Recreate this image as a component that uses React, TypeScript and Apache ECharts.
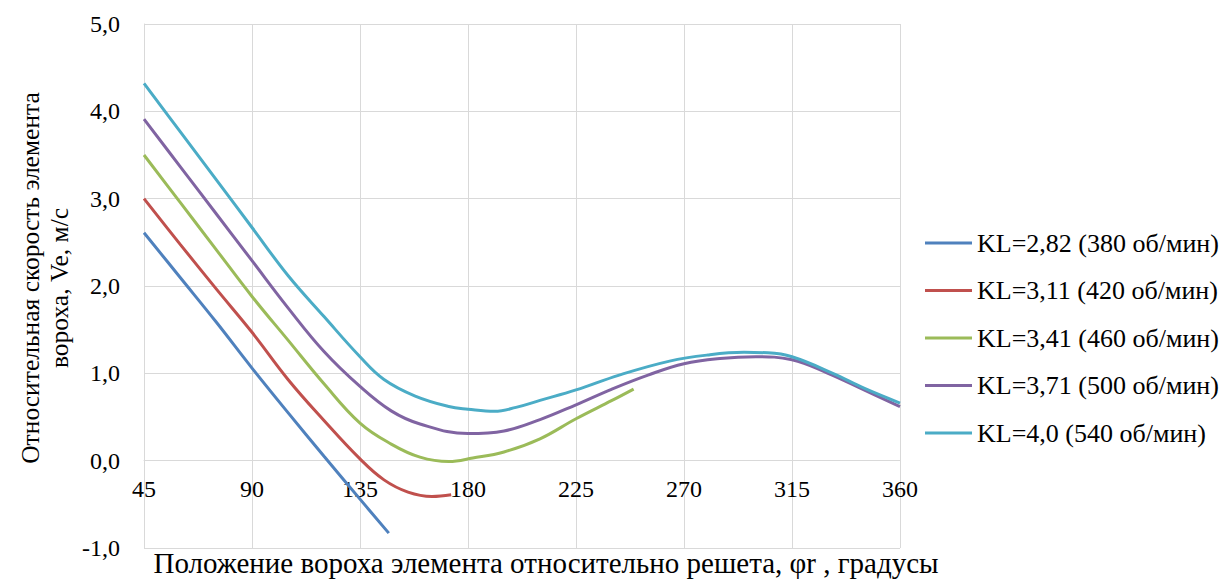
import React, { useEffect, useRef } from "react";
import * as echarts from "echarts";

// Angles (degrees) and relative velocity (m/s) for each sieve speed
const kl282Angles = [45, 60, 75, 90, 105, 120, 135, 147];
const kl282Values = [2.61, 2.1, 1.59, 1.06, 0.55, 0.05, -0.44, -0.83];

const kl311Angles = [45, 60, 75, 90, 105, 120, 135, 145, 155, 165, 173];
const kl311Values = [3.0, 2.48, 1.97, 1.47, 0.93, 0.46, 0.02, -0.22, -0.36, -0.41, -0.39];

const kl341Angles = [45, 60, 75, 90, 105, 120, 135, 148, 160, 172, 182, 195, 210, 225, 240, 249];
const kl341Values = [3.5, 2.96, 2.42, 1.88, 1.38, 0.88, 0.43, 0.19, 0.04, -0.01, 0.03, 0.1, 0.25, 0.48, 0.69, 0.82];

const kl371Angles = [45, 60, 75, 90, 105, 120, 135, 148, 160, 180, 195, 210, 225, 240, 255, 270, 285, 300, 315, 330, 345, 360];
const kl371Values = [3.91, 3.37, 2.83, 2.29, 1.75, 1.25, 0.85, 0.57, 0.42, 0.31, 0.34, 0.47, 0.64, 0.82, 0.98, 1.11, 1.17, 1.19, 1.155, 1.0, 0.81, 0.62];

const kl40Angles = [45, 60, 75, 90, 105, 120, 135, 145, 158, 172, 180, 191, 200, 210, 225, 243, 264, 280, 295, 305, 315, 332, 345, 360];
const kl40Values = [4.32, 3.77, 3.22, 2.67, 2.12, 1.65, 1.19, 0.93, 0.74, 0.62, 0.59, 0.565, 0.61, 0.69, 0.81, 0.98, 1.14, 1.21, 1.24, 1.235, 1.19, 1.0, 0.83, 0.66];

const seriesNames = [
  "KL=2,82 (380 об/мин)",
  "KL=3,11 (420 об/мин)",
  "KL=3,41 (460 об/мин)",
  "KL=3,71 (500 об/мин)",
  "KL=4,0 (540 об/мин)",
];
const seriesColors = ["#4F81BD", "#C0504D", "#9BBB59", "#8064A2", "#4BACC6"];

const xTitle = "Положение вороха элемента относительно решета, φr , градусы";
const yTitleLine1 = "Относительная скорость элемента";
const yTitleLine2 = "вороха, Ve, м/с";

const FONT = '"Liberation Serif", "Times New Roman", serif';

const Y_MIN = -1;
const Y_MAX = 5;
const GRID_TOP = 24;
const GRID_BOTTOM = 32;
const HEIGHT = 580;

const pairs = (xs: number[], ys: number[]) => xs.map((x, i) => [x, ys[i]]);

export default function App() {
  const ref = useRef<HTMLDivElement>(null);

  useEffect(() => {
    if (!ref.current) return;
    const chart = echarts.init(ref.current, undefined, { renderer: "svg" });

    const allData = [
      pairs(kl282Angles, kl282Values),
      pairs(kl311Angles, kl311Values),
      pairs(kl341Angles, kl341Values),
      pairs(kl371Angles, kl371Values),
      pairs(kl40Angles, kl40Values),
    ];

    // The angle axis crosses the value axis at zero: shift it up from the grid bottom
    const plotH = HEIGHT - GRID_TOP - GRID_BOTTOM;
    const zeroShift = (plotH * (0 - Y_MIN)) / (Y_MAX - Y_MIN);

    chart.setOption({
      animation: false,
      backgroundColor: "#ffffff",
      grid: {
        left: 144,
        right: 325,
        top: GRID_TOP,
        bottom: GRID_BOTTOM,
        containLabel: false,
        outerBoundsMode: "none",
      },
      xAxis: {
        type: "value",
        min: 45,
        max: 360,
        interval: 45,
        position: "bottom",
        offset: -zeroShift,
        axisLine: { show: true, onZero: false, lineStyle: { color: "#d9d9d9", width: 1 } },
        axisTick: { show: false },
        axisLabel: { color: "#000", fontFamily: FONT, fontSize: 24, margin: 16 },
        splitLine: { show: true, lineStyle: { color: "#d9d9d9", width: 1 } },
      },
      yAxis: {
        type: "value",
        min: Y_MIN,
        max: Y_MAX,
        interval: 1,
        axisLine: { show: true, lineStyle: { color: "#d9d9d9", width: 1 } },
        axisTick: { show: false },
        axisLabel: {
          color: "#000",
          fontFamily: FONT,
          fontSize: 24,
          margin: 24,
          formatter: (v: number) => v.toFixed(1).replace(".", ","),
        },
        splitLine: { show: true, lineStyle: { color: "#d9d9d9", width: 1 } },
      },
      legend: {
        orient: "vertical",
        left: 925,
        top: 230,
        padding: 0,
        icon: "rect",
        itemWidth: 47,
        itemHeight: 3,
        itemGap: 21.5,
        textStyle: { color: "#000", fontFamily: FONT, fontSize: 26, lineHeight: 26 },
        data: seriesNames,
      },
      graphic: [
        {
          type: "text",
          x: 546,
          y: 563,
          style: {
            text: xTitle,
            fill: "#000",
            font: `29px ${FONT}`,
            textAlign: "center",
            textVerticalAlign: "middle",
          },
        },
        {
          type: "text",
          x: 30,
          y: 278,
          rotation: Math.PI / 2,
          style: {
            text: yTitleLine1,
            fill: "#000",
            font: `25.5px ${FONT}`,
            textAlign: "center",
            textVerticalAlign: "middle",
          },
        },
        {
          type: "text",
          x: 59,
          y: 288,
          rotation: Math.PI / 2,
          style: {
            text: yTitleLine2,
            fill: "#000",
            font: `25.5px ${FONT}`,
            textAlign: "center",
            textVerticalAlign: "middle",
          },
        },
      ],
      series: allData.map((data, i) => ({
        name: seriesNames[i],
        type: "line",
        data,
        smooth: 0.4,
        symbol: "none",
        lineStyle: { color: seriesColors[i], width: 3 },
        itemStyle: { color: seriesColors[i] },
        z: 2 + i,
      })),
    });

    return () => chart.dispose();
  }, []);

  return (
    <div
      ref={ref}
      style={{ position: "fixed", left: 0, top: 0, width: 1225, height: HEIGHT, background: "#fff" }}
    />
  );
}
